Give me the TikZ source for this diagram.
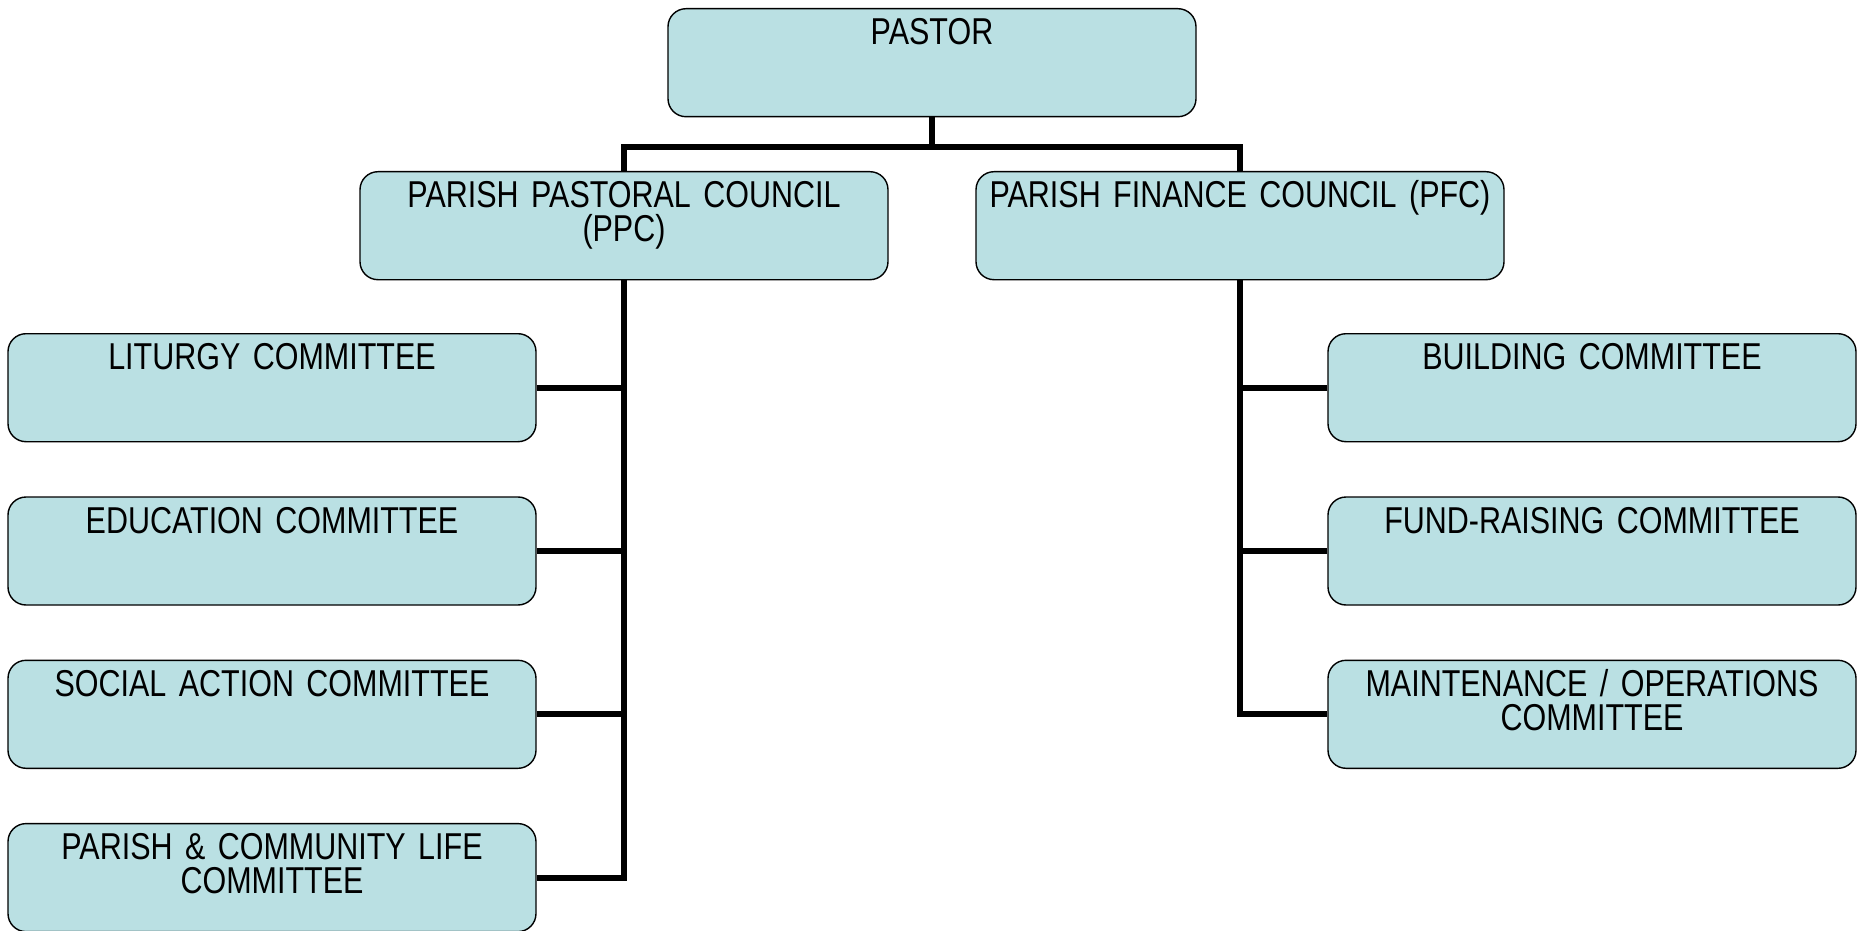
\documentclass[tikz,border=0pt]{standalone}
\usepackage{fontspec}
\setmainfont{Liberation Sans}[FakeStretch=0.815, WordSpace=0.8]
\definecolor{boxfill}{RGB}{186,224,227}
\tikzset{
  unit/.style={draw, fill=boxfill, rounded corners=9pt, line width=0.7pt,
    anchor=north, inner sep=0pt, text width=264pt, align=center,
    text height=18pt, text depth=36pt, font=\fontsize{18.7}{16.9}\selectfont},
  link/.style={line width=3pt}
}
\begin{document}
\begin{tikzpicture}[x=0.5pt, y=-0.5pt]
    \pgfmathsetmacro\xm{932};
    \pgfmathsetmacro\xp{624};
    \pgfmathsetmacro\xf{1240};
    \pgfmathsetmacro\xl{272};
    \pgfmathsetmacro\xr{1592};
    \pgfmathsetmacro\h{163.3};

    \useasboundingbox (0, 0) rectangle (1860, 931);

    \node[unit] (pastor) at (\xm, 8) {PASTOR};
    \node[unit] (ppc) at (\xp, 171) {PARISH PASTORAL COUNCIL\\(PPC)};
    \node[unit] (pfc) at (\xf, 171) {PARISH FINANCE COUNCIL (PFC)};

    \node[unit] (liturgy) at (\xl, 333) {LITURGY COMMITTEE};
    \node[unit] (education) at (\xl, 333 + \h) {EDUCATION COMMITTEE};
    \node[unit] (social) at (\xl, 333 + 2 * \h) {SOCIAL ACTION COMMITTEE};
    \node[unit] (community) at (\xl, 333 + 3 * \h) {PARISH \& COMMUNITY LIFE\\COMMITTEE};

    \node[unit] (building) at (\xr, 333) {BUILDING COMMITTEE};
    \node[unit] (fundraising) at (\xr, 333 + \h) {FUND-RAISING COMMITTEE};
    \node[unit] (maintenance) at (\xr, 333 + 2 * \h) {MAINTENANCE / OPERATIONS\\COMMITTEE};

    \coordinate (hub) at (\xm, 147);

    \draw[link] (pastor.south) -- (hub);
    \draw[link] (ppc.north) |- (hub) -| (pfc.north);

    \draw[link] (ppc.south) |- (community.east);
    \draw[link] (liturgy.east) -- (liturgy.east -| ppc.south);
    \draw[link] (education.east) -- (education.east -| ppc.south);
    \draw[link] (social.east) -- (social.east -| ppc.south);

    \draw[link] (pfc.south) |- (maintenance.west);
    \draw[link] (building.west) -- (building.west -| pfc.south);
    \draw[link] (fundraising.west) -- (fundraising.west -| pfc.south);
\end{tikzpicture}
\end{document}
